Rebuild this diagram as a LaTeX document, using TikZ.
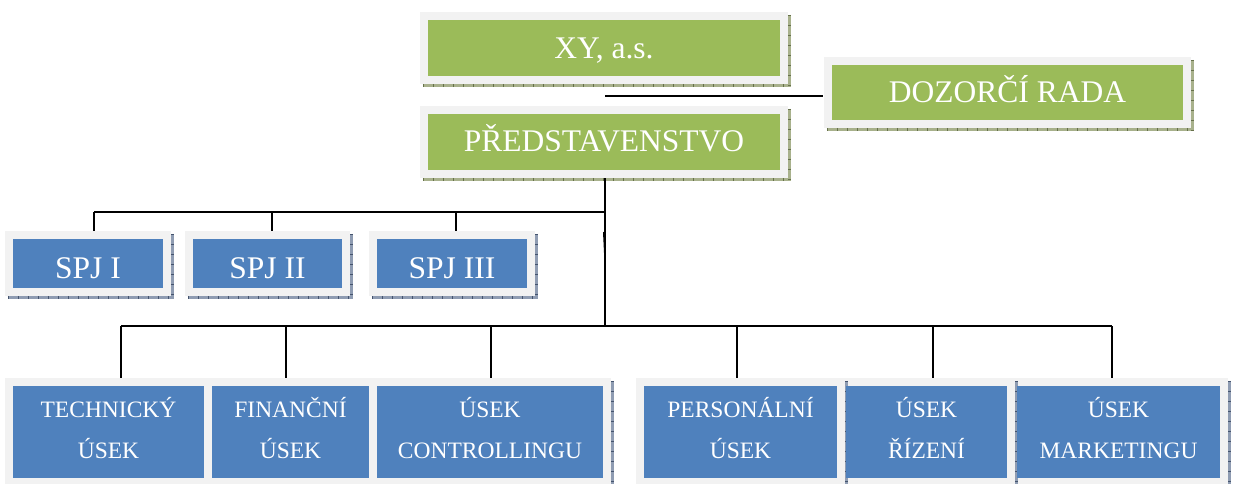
\documentclass[tikz,border=0pt]{standalone}
\usepackage{fontspec}
\setmainfont{Liberation Serif}
\usetikzlibrary{backgrounds}
\definecolor{grn}{HTML}{9BBB59}
\definecolor{blu}{HTML}{4F81BD}
\definecolor{frm}{HTML}{F2F2F2}
\definecolor{gsh}{HTML}{A8B18C}
\definecolor{gtk}{HTML}{66714A}
\definecolor{bsh}{HTML}{8F9CB2}
\definecolor{btk}{HTML}{45546E}
\newcommand\frameof[1]{\fill[frm] ([shift={(-8,-8)}]#1.north west) rectangle ([shift={(8,8)}]#1.south east);}
\newcommand\shadowof[3]{%
 \fill[#2] ([shift={(-5,8)}]#1.south west) rectangle ([shift={(11,11)}]#1.south east);
 \fill[#2] ([shift={(8,-5)}]#1.north east) rectangle ([shift={(11,11)}]#1.south east);
 \draw[#3, line width=3pt, dash pattern=on 1pt off 9pt] ([shift={(-5,9.5)}]#1.south west) -- ([shift={(11,9.5)}]#1.south east);
 \draw[#3, line width=3pt, dash pattern=on 1pt off 9pt] ([shift={(9.5,-5)}]#1.north east) -- ([shift={(9.5,11)}]#1.south east);}
\begin{document}
\begin{tikzpicture}[x=1pt,y=-1pt,
 gbox/.style={fill=grn, text=white, inner sep=0pt, font=\fontsize{31.5}{38}\selectfont, text depth=0pt},
 sbox/.style={fill=blu, text=white, inner sep=0pt, font=\fontsize{31.5}{38}\selectfont, text depth=0pt, text height=29pt, minimum height=49pt},
 bbox/.style={fill=blu, text=white, inner sep=0pt, font=\fontsize{23.5}{41}\selectfont, align=center, text height=52pt, text depth=0pt, minimum height=92pt},
 conn/.style={draw=black, line width=1.6pt},
 thinc/.style={draw=black, line width=1pt}]
\useasboundingbox (0,0) rectangle (1235,484);
% top
\node[gbox, minimum width=352pt, minimum height=56pt, text height=22pt] (xy) at (604,48) {XY, a.s.};
\node[gbox, minimum width=352pt, minimum height=56pt, text height=20pt] (pred) at (604,142) {PŘEDSTAVENSTVO};
\node[gbox, minimum width=351pt, minimum height=55pt, text height=21pt] (doz) at (1007.5,92.5) {DOZORČÍ RADA};
% SPJ
\node[sbox, minimum width=150pt] (spj1) at (88,263.5) {SPJ I};
\node[sbox, minimum width=149pt] (spj2) at (267.5,263.5) {SPJ II};
\node[sbox, minimum width=150pt] (spj3) at (452,263.5) {SPJ III};
% bottom
\node[bbox, minimum width=191pt] (tech) at (108.5,432) {TECHNICKÝ\\ÚSEK};
\node[bbox, minimum width=157pt] (fin) at (290.5,432) {FINANČNÍ\\ÚSEK};
\node[bbox, minimum width=226pt] (contr) at (490,432) {ÚSEK\\CONTROLLINGU};
\node[bbox, minimum width=193pt] (pers) at (740.5,432) {PERSONÁLNÍ\\ÚSEK};
\node[bbox, minimum width=161pt] (riz) at (926.5,432) {ÚSEK\\ŘÍZENÍ};
\node[bbox, minimum width=203pt] (mark) at (1118.5,432) {ÚSEK\\MARKETINGU};
\begin{scope}[on background layer]
 \shadowof{xy}{gsh}{gtk}
 \shadowof{pred}{gsh}{gtk}
 \shadowof{doz}{gsh}{gtk}
 \shadowof{spj1}{bsh}{btk}
 \shadowof{spj2}{bsh}{btk}
 \shadowof{spj3}{bsh}{btk}
 \shadowof{tech}{bsh}{btk}
 \shadowof{fin}{bsh}{btk}
 \shadowof{contr}{bsh}{btk}
 \frameof{xy}\frameof{pred}\frameof{doz}
 \frameof{spj1}\frameof{spj2}\frameof{spj3}
 \frameof{tech}\frameof{fin}\frameof{contr}
 \frameof{pers}\frameof{riz}\frameof{mark}
 \shadowof{pers}{bsh}{btk}
 \shadowof{riz}{bsh}{btk}
 \shadowof{mark}{bsh}{btk}
\end{scope}
% connector points
\path ([xshift=-9pt]doz.west) coordinate (dozf);
\coordinate (dj) at (605,96);
\path ([shift={(1,8)}]pred.south) coordinate (t0);
\coordinate (s0) at (605,212);
\coordinate (bus0) at (605,326);
\coordinate (sA) at (94,212);
\coordinate (sB) at (272,212);
\coordinate (sC) at (456,212);
\path ([yshift=8pt]spj1.north) coordinate (spjtop);
\coordinate (b1) at (121,326);
\coordinate (b2) at (286,326);
\coordinate (b3) at (491,326);
\coordinate (b4) at (737,326);
\coordinate (b5) at (933,326);
\coordinate (b6) at (1112,326);
\path ([yshift=8pt]tech.north) coordinate (btop);
\coordinate (k1) at (603.5,232);
\coordinate (k2) at (605,263);
% connectors
\draw[conn] (dj) -- (dj -| dozf);
\draw[conn] (t0) -- (bus0);
\draw[conn] (sA) -- (s0);
\draw[conn] (sA) -- (sA |- spjtop);
\draw[conn] (sB) -- (sB |- spjtop);
\draw[conn] (sC) -- (sC |- spjtop);
\draw[conn] (b1) -- (b6);
\foreach \b in {b1,b2,b3,b4,b5,b6} \draw[conn] (\b) -- (\b |- btop);
\draw[thinc] (k1) -- (k2);
\end{tikzpicture}
\end{document}
